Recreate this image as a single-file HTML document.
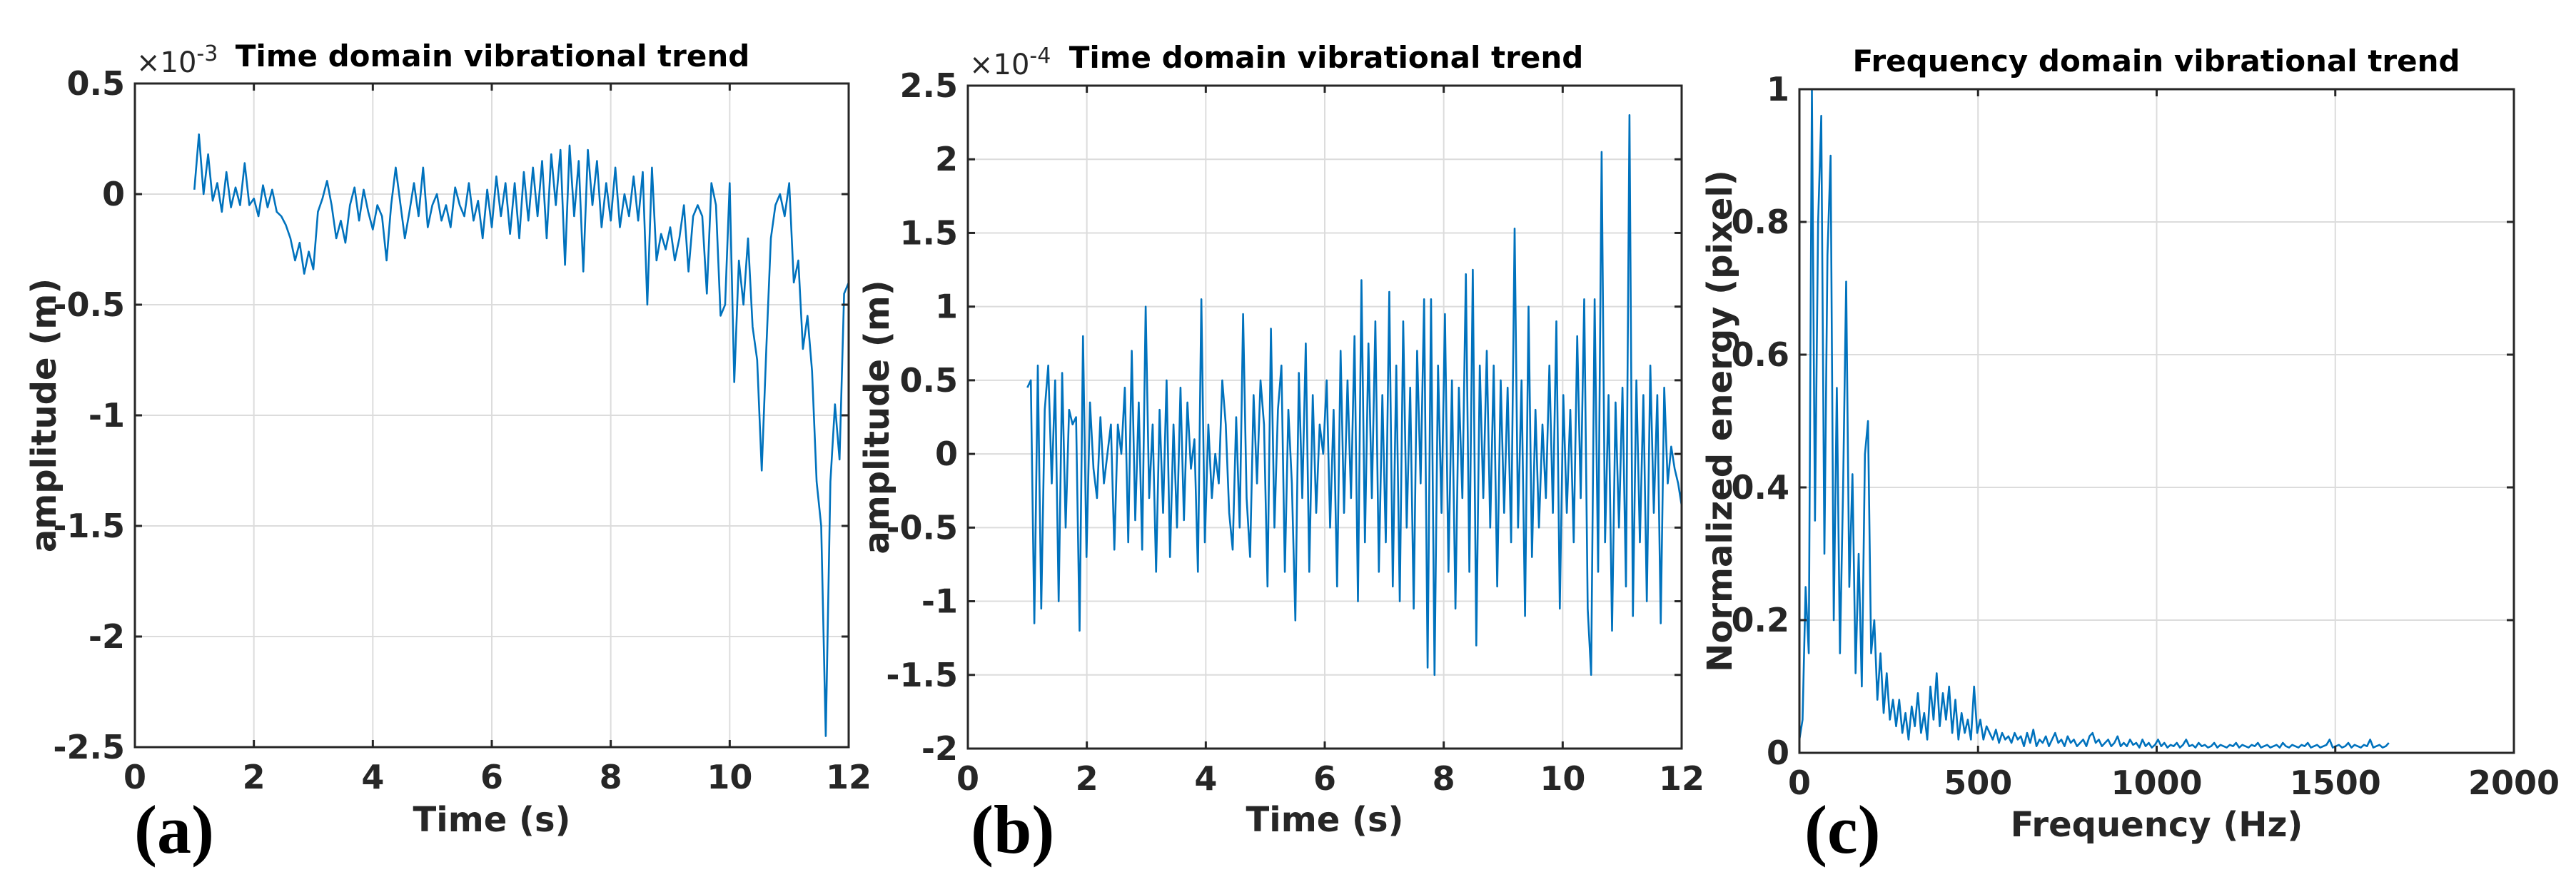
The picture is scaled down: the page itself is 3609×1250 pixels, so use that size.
<!DOCTYPE html>
<html><head><meta charset="utf-8"><style>
html,body{margin:0;padding:0;background:#fff;}
svg{display:block;font-family:"DejaVu Sans","Liberation Sans",sans-serif;}
</style></head><body>
<svg id="fig" width="3609" height="1250" viewBox="0 0 3609 1250" xmlns="http://www.w3.org/2000/svg"></svg>
<script>
// ---- Panel (a) data: amplitude in units of 1e-3 m, samples from 1 s to 12 s
const aValues = [0.02,0.27,0.0,0.18,-0.03,0.05,-0.08,0.1,-0.06,0.03,-0.05,0.14,-0.05,-0.02,-0.1,0.04,-0.06,0.02,-0.08,-0.1,-0.14,-0.2,-0.3,-0.22,-0.36,-0.26,-0.34,-0.08,-0.02,0.06,-0.05,-0.2,-0.12,-0.22,-0.05,0.03,-0.12,0.02,-0.08,-0.16,-0.05,-0.1,-0.3,-0.05,0.12,-0.04,-0.2,-0.08,0.05,-0.1,0.12,-0.15,-0.05,0.0,-0.12,-0.05,-0.15,0.03,-0.05,-0.1,0.05,-0.12,-0.03,-0.2,0.02,-0.15,0.08,-0.1,0.05,-0.18,0.05,-0.2,0.1,-0.12,0.12,-0.1,0.15,-0.2,0.18,-0.05,0.2,-0.32,0.22,-0.1,0.15,-0.35,0.2,-0.05,0.15,-0.15,0.05,-0.12,0.12,-0.15,0.0,-0.1,0.08,-0.12,0.1,-0.5,0.12,-0.3,-0.18,-0.25,-0.15,-0.3,-0.2,-0.05,-0.35,-0.1,-0.05,-0.1,-0.45,0.05,-0.05,-0.55,-0.5,0.05,-0.85,-0.3,-0.5,-0.2,-0.6,-0.75,-1.25,-0.7,-0.2,-0.05,0.0,-0.1,0.05,-0.4,-0.3,-0.7,-0.55,-0.8,-1.3,-1.5,-2.45,-1.3,-0.95,-1.2,-0.45,-0.4];
const aXTicks = [0,2,4,6,8,10,12];
const aYTicks = [0.5,0,-0.5,-1,-1.5,-2,-2.5];
const aYTickLabels = ["0.5","0","-0.5","-1","-1.5","-2","-2.5"];
// ---- Panel (b) data: amplitude in units of 1e-4 m, samples from 1 s to 12 s
const bValues = [0.45,0.5,-1.15,0.6,-1.05,0.3,0.6,-0.2,0.5,-1.0,0.55,-0.5,0.3,0.2,0.25,-1.2,0.8,-0.7,0.35,-0.1,-0.3,0.25,-0.2,0.0,0.2,-0.65,0.2,0.0,0.45,-0.6,0.7,-0.45,0.35,-0.65,1.0,-0.3,0.2,-0.8,0.3,-0.4,0.5,-0.7,0.2,-0.5,0.45,-0.45,0.35,-0.1,0.1,-0.8,1.05,-0.6,0.2,-0.3,0.0,-0.2,0.5,0.2,-0.4,-0.65,0.25,-0.5,0.95,-0.3,-0.7,0.4,-0.2,0.5,0.2,-0.9,0.85,-0.5,0.3,0.6,-0.8,0.3,-0.2,-1.13,0.55,-0.3,0.75,-0.8,0.4,-0.4,0.2,0.0,0.5,-0.5,0.3,-0.9,0.7,-0.4,0.5,-0.3,0.8,-1.0,1.18,-0.6,0.75,-0.3,0.9,-0.8,0.4,-0.6,1.1,-0.9,0.6,-1.0,0.9,-0.5,0.45,-1.05,0.7,-0.2,1.05,-1.45,1.05,-1.5,0.6,-0.4,0.95,-0.8,0.5,-1.05,0.45,-0.3,1.22,-0.8,1.25,-1.3,0.6,-0.3,0.7,-0.5,0.6,-0.9,0.5,-0.4,0.45,-0.6,1.53,-0.5,0.5,-1.1,1.0,-0.7,0.3,-0.5,0.2,-0.3,0.6,-0.4,0.9,-1.05,0.4,-0.4,0.3,-0.6,0.8,-0.3,1.05,-1.05,-1.5,1.05,-0.8,2.05,-0.6,0.4,-1.2,0.35,-0.5,0.45,-0.9,2.3,-1.1,0.5,-0.6,0.4,-1.0,0.6,-0.4,0.4,-1.15,0.45,-0.2,0.05,-0.1,-0.2,-0.35];
const bXTicks = [0,2,4,6,8,10,12];
const bYTicks = [2.5,2,1.5,1,0.5,0,-0.5,-1,-1.5,-2];
const bYTickLabels = ["2.5","2","1.5","1","0.5","0","-0.5","-1","-1.5","-2"];
// ---- Panel (c) data: normalized energy, samples from 0 Hz to 1650 Hz
const cValues = [0.02,0.05,0.25,0.15,1.0,0.35,0.8,0.96,0.3,0.75,0.9,0.2,0.55,0.15,0.4,0.71,0.25,0.42,0.12,0.3,0.1,0.45,0.5,0.15,0.2,0.08,0.15,0.06,0.12,0.05,
0.08,0.04,0.08,0.03,0.06,0.02,0.07,0.04,0.09,0.03,0.06,0.02,0.1,0.05,0.12,0.04,0.09,0.05,0.1,0.03,0.08,0.02,0.06,0.03,0.05,0.02,0.1,0.03,0.05,0.02,
0.04,0.03,0.02,0.035,0.015,0.03,0.02,0.025,0.015,0.03,0.02,0.025,0.01,0.03,0.015,0.035,0.01,0.02,0.015,0.025,0.01,0.02,0.03,0.015,0.02,0.01,0.025,0.015,0.02,0.01,
0.015,0.02,0.01,0.025,0.03,0.015,0.02,0.01,0.015,0.02,0.01,0.015,0.025,0.01,0.015,0.01,0.02,0.012,0.015,0.008,0.02,0.01,0.015,0.008,0.012,0.02,0.01,0.015,0.008,0.012,
0.01,0.015,0.008,0.012,0.02,0.01,0.012,0.008,0.015,0.01,0.012,0.008,0.01,0.015,0.008,0.012,0.01,0.008,0.012,0.01,0.015,0.008,0.012,0.01,0.008,0.012,0.01,0.015,0.008,0.01,
0.012,0.008,0.01,0.012,0.008,0.015,0.01,0.008,0.012,0.01,0.008,0.012,0.01,0.015,0.008,0.01,0.012,0.008,0.01,0.012,0.02,0.008,0.01,0.012,0.008,0.01,0.015,0.008,0.012,0.01,
0.008,0.012,0.01,0.02,0.008,0.01,0.012,0.008,0.01,0.015];
const cXTicks = [0,500,1000,1500,2000];
const cYTicks = [0,0.2,0.4,0.6,0.8,1];
const cYTickLabels = ["0","0.2","0.4","0.6","0.8","1"];

const NS = "http://www.w3.org/2000/svg";
const fig = document.getElementById('fig');
function mk(tag, attrs, parent){
  const e = document.createElementNS(NS, tag);
  for (const k in attrs) e.setAttribute(k, attrs[k]);
  (parent||fig).appendChild(e);
  return e;
}

function panel(cfg){
  const g = mk('g', {});
  
  
  const L=cfg.L,R=cfg.R,T=cfg.T,B=cfg.B;
  const sx = v => L + (v - cfg.xmin)/(cfg.xmax - cfg.xmin)*(R-L);
  const sy = v => B - (v - cfg.ymin)/(cfg.ymax - cfg.ymin)*(B-T);
  cfg.xTicks.forEach(v=>{
    const l = mk('line',{x1:sx(v),x2:sx(v),y1:T,y2:B,stroke:'#dcdcdc','stroke-width':2},g);
    
    
  });
  cfg.yTicks.forEach(v=>{
    const l = mk('line',{x1:L,x2:R,y1:sy(v),y2:sy(v),stroke:'#dcdcdc','stroke-width':2},g);
    
    
  });
  const n = cfg.values.length;
  let d = '';
  cfg.values.forEach((v,i)=>{
    const x = cfg.x0 + i*(cfg.x1-cfg.x0)/(n-1);
    d += (i?'L':'M') + sx(x).toFixed(1) + ',' + sy(v).toFixed(1);
  });
  const p = mk('path',{d:d,fill:'none',stroke:'#0072BD','stroke-width':2.6,'stroke-linejoin':'round'},g);
  
  
  cfg.xTicks.forEach(v=>{
    mk('line',{x1:sx(v),x2:sx(v),y1:B,y2:B-10,stroke:'#262626','stroke-width':3},g);
    mk('line',{x1:sx(v),x2:sx(v),y1:T,y2:T+10,stroke:'#262626','stroke-width':3},g);
    const t = mk('text',{x:sx(v),y:B+58,'text-anchor':'middle','font-size':46,'font-weight':'bold',fill:'#262626'},g);
    t.textContent = String(v);
    
    
  });
  cfg.yTicks.forEach((v,i)=>{
    mk('line',{x1:L,x2:L+10,y1:sy(v),y2:sy(v),stroke:'#262626','stroke-width':3},g);
    mk('line',{x1:R,x2:R-10,y1:sy(v),y2:sy(v),stroke:'#262626','stroke-width':3},g);
    const t = mk('text',{x:L-14,y:sy(v)+16,'text-anchor':'end','font-size':46,'font-weight':'bold',fill:'#262626'},g);
    t.textContent = cfg.yLabels[i];
    
    
  });
  const box = mk('rect',{x:L,y:T,width:R-L,height:B-T,fill:'none',stroke:'#262626','stroke-width':3},g);
  
  
  const ti = mk('text',{x:cfg.titleX,y:cfg.titleY,'text-anchor':'middle','font-size':42,'font-weight':'bold',fill:'#000'},g);
  ti.textContent = cfg.title;
  
  
  if (cfg.exp){
    const ex = mk('text',{x:L+2,y:T-16,'font-size':40,fill:'#262626'},g);
    ex.innerHTML = '×10<tspan dy="-16" font-size="30">'+cfg.exp+'</tspan>';
    
    
  }
  const xl = mk('text',{x:(L+R)/2,y:cfg.xlabY,'text-anchor':'middle','font-size':48,'font-weight':'bold',fill:'#262626'},g);
  xl.textContent = cfg.xlabel;
  
  
  const yl = mk('text',{x:0,y:0,'text-anchor':'middle','font-size':48,'font-weight':'bold',fill:'#262626',transform:'translate('+cfg.ylabX+','+(T+B)/2+') rotate(-90)'},g);
  yl.textContent = cfg.ylabel;
  
  
  const pl = mk('text',{x:cfg.tagX,y:1195,'font-size':96,'font-weight':'bold','font-family':'"Liberation Serif",serif',fill:'#000'},g);
  pl.textContent = cfg.tag;
  
  
}

panel({name:'panel-a',seriesName:'displacement-line-a',L:189,R:1189,T:117,B:1047,xmin:0,xmax:12,ymin:-2.5,ymax:0.5,
  x0:1,x1:12,values:aValues,xTicks:aXTicks,yTicks:aYTicks,yLabels:aYTickLabels,
  title:'Time domain vibrational trend',titleX:690,titleY:93,exp:'-3',
  xlabel:'Time (s)',xlabY:1165,ylabel:'amplitude (m)',ylabX:78,tag:'(a)',tagX:188});
panel({name:'panel-b',seriesName:'displacement-line-b',L:1356,R:2356,T:120,B:1049,xmin:0,xmax:12,ymin:-2,ymax:2.5,
  x0:1,x1:12,values:bValues,xTicks:bXTicks,yTicks:bYTicks,yLabels:bYTickLabels,
  title:'Time domain vibrational trend',titleX:1858,titleY:95,exp:'-4',
  xlabel:'Time (s)',xlabY:1165,ylabel:'amplitude (m)',ylabX:1245,tag:'(b)',tagX:1360});
panel({name:'panel-c',seriesName:'energy-spectrum-line',L:2521,R:3522,T:125,B:1055,xmin:0,xmax:2000,ymin:0,ymax:1,
  x0:0,x1:1650,values:cValues,xTicks:cXTicks,yTicks:cYTicks,yLabels:cYTickLabels,
  title:'Frequency domain vibrational trend',titleX:3021,titleY:100,exp:null,
  xlabel:'Frequency (Hz)',xlabY:1172,ylabel:'Normalized energy (pixel)',ylabX:2426,tag:'(c)',tagX:2528});
</script>
</body></html>
